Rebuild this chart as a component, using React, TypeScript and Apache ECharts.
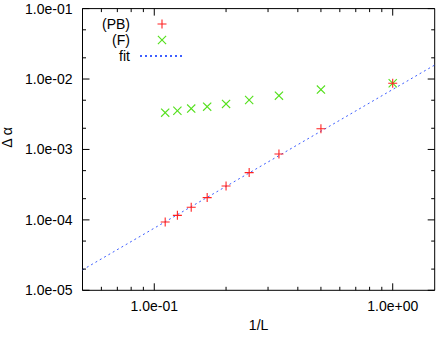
import React, { useEffect, useRef } from "react";
import * as echarts from "echarts";

// 1/L values
const X_VALUES = [1 / 9, 1 / 8, 1 / 7, 1 / 6, 1 / 5, 1 / 4, 1 / 3, 1 / 2, 1];
// Δα for (PB)
const PB_VALUES = [9.35e-5, 1.16e-4, 1.51e-4, 2.07e-4, 3.03e-4, 4.69e-4, 8.63e-4, 1.97e-3, 8.7e-3];
// Δα for (F)
const F_VALUES = [3.33e-3, 3.55e-3, 3.8e-3, 4.05e-3, 4.43e-3, 5.04e-3, 5.81e-3, 7.08e-3, 8.7e-3];
// fit line end points (x, y)
const FIT_X = [0.05, 1.5];
const FIT_Y = [1.95e-5, 1.58e-2];

const X_MIN = 0.05;
const X_MAX = 1.5;
const Y_MIN = 1e-5;
const Y_MAX = 1e-1;

const X_TICKS_MAJOR = [0.1, 1];
const X_TICKS_MINOR = [0.05, 0.06, 0.07, 0.08, 0.09, 0.2, 0.3, 0.4, 0.5, 0.6, 0.7, 0.8, 0.9];
const Y_TICKS_MAJOR = [1e-5, 1e-4, 1e-3, 1e-2, 1e-1];
const Y_TICKS_MINOR = [2e-5, 5e-5, 2e-4, 5e-4, 2e-3, 5e-3, 2e-2, 5e-2];

const FONT = "'Liberation Sans', Arial, Helvetica, sans-serif";
const PLUS = "path://M0,4.4H10V5.6H0Z M4.4,0H5.6V10H4.4Z";
const CROSS =
  "path://M0.9,0L5,4.1L9.1,0L10,0.9L5.9,5L10,9.1L9.1,10L5,5.9L0.9,10L0,9.1L4.1,5L0,0.9Z";

function fmtExp(v: number): string {
  const l = Math.log10(v);
  const e = Math.round(l);
  if (Math.abs(l - e) > 1e-6) return "";
  const s = e < 0 ? "-" : "+";
  return "1.0e" + s + String(Math.abs(e)).padStart(2, "0");
}

function tickSeries(name: string, values: number[], isX: boolean, len: number) {
  return {
    type: "custom",
    name,
    silent: true,
    coordinateSystem: "cartesian2d",
    data: values.map((v) => (isX ? [v, 1e-3] : [0.2, v])),
    renderItem: (params: any, api: any) => {
      const cs = params.coordSys;
      const p = api.coord([api.value(0), api.value(1)]);
      const st = { stroke: "#000", lineWidth: 1 };
      if (isX) {
        const yb = cs.y + cs.height;
        const yt = cs.y;
        return {
          type: "group",
          children: [
            { type: "line", shape: { x1: p[0], y1: yb, x2: p[0], y2: yb - len }, style: st },
            { type: "line", shape: { x1: p[0], y1: yt, x2: p[0], y2: yt + len }, style: st },
          ],
        };
      }
      const xl = cs.x;
      const xr = cs.x + cs.width;
      return {
        type: "group",
        children: [
          { type: "line", shape: { x1: xl, y1: p[1], x2: xl + len, y2: p[1] }, style: st },
          { type: "line", shape: { x1: xr, y1: p[1], x2: xr - len, y2: p[1] }, style: st },
        ],
      };
    },
    z: 5,
  };
}

export default function App() {
  const ref = useRef<HTMLDivElement>(null);
  useEffect(() => {
    if (!ref.current) return;
    const chart = echarts.init(ref.current, undefined, { renderer: "svg" });
    const option: any = {
      animation: false,
      backgroundColor: "#fff",
      textStyle: { fontFamily: FONT },
      grid: {
        left: 82.5,
        right: 1.3,
        top: 8.6,
        bottom: 46.7,
        show: true,
        borderColor: "#000",
        borderWidth: 1,
        backgroundColor: "transparent",
        containLabel: false,
        outerBoundsMode: "none",
      },
      legend: {
        orient: "vertical",
        align: "right",
        right: 251,
        top: 17,
        padding: 0,
        itemGap: 2,
        itemWidth: 44,
        itemHeight: 9,
        symbolKeepAspect: true,
        selectedMode: false,
        textStyle: { fontSize: 14, color: "#000", fontFamily: FONT, padding: [0, 5, 0, 0] },
        data: [
          "(PB)",
          "(F)",
          { name: "fit", itemStyle: { color: "rgba(0,0,0,0)", borderWidth: 0, opacity: 0 } },
        ],
      },
      xAxis: {
        type: "log",
        logBase: 10,
        min: X_MIN,
        max: X_MAX,
        name: "1/L",
        nameLocation: "middle",
        nameGap: 21,
        nameTextStyle: { fontSize: 14, color: "#000", fontFamily: FONT },
        axisLine: { show: false },
        axisTick: { show: false },
        splitLine: { show: false },
        minorTick: { show: false },
        axisLabel: {
          fontSize: 14,
          color: "#000",
          fontFamily: FONT,
          margin: 9,
          formatter: (v: number) => fmtExp(v),
          showMinLabel: true,
          showMaxLabel: true,
        },
      },
      yAxis: {
        type: "log",
        logBase: 10,
        min: Y_MIN,
        max: Y_MAX,
        name: "Δ α",
        nameLocation: "middle",
        nameGap: 67,
        nameTextStyle: { fontSize: 14, color: "#000", fontFamily: FONT, padding: [0, 0, 0, 24] },
        axisLine: { show: false },
        axisTick: { show: false },
        splitLine: { show: false },
        axisLabel: {
          fontSize: 14,
          color: "#000",
          fontFamily: FONT,
          margin: 10,
          formatter: (v: number) => fmtExp(v),
        },
      },
      series: [
        {
          type: "line",
          name: "fit",
          data: FIT_X.map((x, i) => [x, FIT_Y[i]]),
          symbol: "none",
          showSymbol: false,
          lineStyle: { color: "#3d5eff", width: 1, type: [2, 3] },
          itemStyle: { color: "#3d5eff" },
          z: 2,
          silent: true,
        },
        {
          type: "scatter",
          name: "(F)",
          data: X_VALUES.map((x, i) => [x, F_VALUES[i]]),
          symbol: CROSS,
          symbolSize: 9,
          itemStyle: { color: "#55e01e", opacity: 1 },
          z: 3,
        },
        {
          type: "scatter",
          name: "(PB)",
          data: X_VALUES.map((x, i) => [x, PB_VALUES[i]]),
          symbol: PLUS,
          symbolSize: 9,
          itemStyle: { color: "#ff2020", opacity: 1 },
          z: 4,
        },
        tickSeries("xMajor", X_TICKS_MAJOR, true, 7),
        tickSeries("xMinor", X_TICKS_MINOR, true, 3.5),
        tickSeries("yMajor", Y_TICKS_MAJOR, false, 7),
        tickSeries("yMinor", Y_TICKS_MINOR, false, 3.5),
      ],
    };
    chart.setOption(option);
    return () => chart.dispose();
  }, []);
  return (
    <div
      ref={ref}
      style={{ position: "fixed", left: 0, top: 0, width: 436, height: 337, background: "#fff" }}
    />
  );
}
